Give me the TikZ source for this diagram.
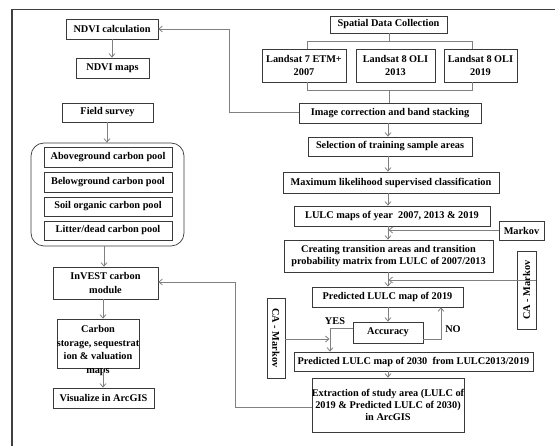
\documentclass[tikz,border=0pt]{standalone}
\usepackage{fontspec}
\setmainfont{Liberation Serif}
\usetikzlibrary{arrows.meta,calc}
\definecolor{boxline}{HTML}{3A3A3A}
\definecolor{conn}{HTML}{808080}
\begin{document}
\begin{tikzpicture}[x=1pt,y=-1pt,
  font=\bfseries\fontsize{10.3}{12.2}\selectfont,
  bx/.style={draw=boxline,line width=0.7pt,inner sep=0pt,align=center},
  cn/.style={draw=conn,line width=0.8pt},
  ar/.style={cn,-{Straight Barb[length=3.5pt,width=6pt]}},
  lbl/.style={inner sep=0pt}]
\useasboundingbox (0,0) rectangle (555,446);
% frame
\draw[line width=1.4pt,color=black!75] (12,446) -- (12,9.5) -- (555,9.5);
% left column
\node[bx,minimum width=92pt,minimum height=20pt] (ndvi) at (112,29) {NDVI calculation};
\node[bx,minimum width=73pt,minimum height=20pt] (ndvimaps) at (112.5,68) {NDVI maps};
\node[bx,minimum width=91pt,minimum height=19pt] (field) at (107.5,112.5) {Field survey};
\node[draw=boxline,line width=0.7pt,rounded corners=13pt,minimum width=153pt,minimum height=103pt,inner sep=0pt] (pool) at (107.5,194.5) {};
\node[bx,minimum width=128pt,minimum height=20pt] (above) at (108,157) {Aboveground carbon pool};
\node[bx,minimum width=128pt,minimum height=20pt] (below) at (108,182) {Belowground carbon pool};
\node[bx,minimum width=128pt,minimum height=19pt] (soil) at (108,206.5) {Soil organic carbon pool};
\node[bx,minimum width=128pt,minimum height=19pt] (litter) at (108,230.5) {Litter/dead carbon pool};
\node[bx,minimum width=105pt,minimum height=32pt] (invest) at (105.5,283) {InVEST carbon\\[1pt]module};
\node[bx,minimum width=82pt,minimum height=49pt] (carbon) at (98,343.5) {};
\node[lbl,align=center,font=\bfseries\fontsize{10.3}{13.7}\selectfont] (carbontxt) at (98,350.5) {Carbon\\storage, sequestrat\\ion \& valuation\\maps};
\node[bx,minimum width=101pt,minimum height=20pt] (vis) at (103.5,398) {Visualize in ArcGIS};
% right column
\node[bx,minimum width=117pt,minimum height=17pt] (sdc) at (388.5,24.5) {Spatial Data Collection};
\node[bx,minimum width=84pt,minimum height=33pt] (l7) at (304,65.5) {Landsat 7 ETM+\\2007};
\node[bx,minimum width=79pt,minimum height=33pt] (l13) at (395.5,65.5) {Landsat 8 OLI\\2013};
\node[bx,minimum width=73pt,minimum height=33pt] (l19) at (480.5,65.5) {Landsat 8 OLI\\2019};
\node[bx,minimum width=182pt,minimum height=20pt] (img) at (390,113) {Image correction and band stacking};
\node[bx,minimum width=164pt,minimum height=19pt] (sel) at (390,146.5) {Selection of training sample areas};
\node[bx,minimum width=216pt,minimum height=21pt] (mlc) at (391,182.5) {Maximum likelihood supervised classification};
\node[bx,minimum width=196pt,minimum height=20pt] (lulc) at (392,216) {LULC maps of year~ 2007, 2013 \& 2019};
\node[bx,minimum width=45pt,minimum height=19pt] (markov) at (521.5,230.5) {Markov};
\node[bx,minimum width=209pt,minimum height=32pt] (creat) at (388.5,256) {Creating transition areas and transition\\probability matrix from LULC of 2007/2013};
\node[bx,rotate=90,minimum width=78pt,minimum height=19pt] (camr) at (526.5,290) {CA - Markov};
\node[bx,minimum width=151pt,minimum height=20pt] (p19) at (387.5,297) {Predicted LULC map of 2019};
\node[bx,minimum width=70pt,minimum height=21pt] (acc) at (388,332.5) {Accuracy};
\node[bx,rotate=-90,minimum width=80pt,minimum height=18pt] (caml) at (276,338) {CA - Markov};
\node[bx,minimum width=239pt,minimum height=19pt] (p30) at (413.5,361.5) {Predicted LULC map of 2030~ from LULC2013/2019};
\node[bx,minimum width=150pt,minimum height=54pt] (extr) at (388,405) {Extraction of study area (LULC of\\2019 \& Predicted LULC of 2030)\\in ArcGIS};
\node[lbl] (yes) at (335,321) {YES};
\node[lbl] (no) at (453,329) {NO};
% helper coordinates
\coordinate (bt1) at (389,41);
\coordinate (bt2) at (389,90);
% connectors
\draw[ar] (img.west |- 0,112) -- (229,112) -- (229,29) -- (ndvi.east);
\draw[ar] (ndvi.south) -- (ndvimaps.north -| ndvi.south);
\draw[ar] (field.south -| 107,0) -- (pool.north -| 107,0);
\draw[ar] (pool.south -| 104,0) -- (invest.north -| 104,0);
\draw[ar] (extr.west |- 0,407) -- (235,407) -- (235,282) -- (invest.east |- 0,282);
\draw[ar] (invest.south -| 103,0) -- (carbon.north -| 103,0);
\draw[ar] (carbon.south -| 103,0) -- (vis.north -| 103,0);
\draw[cn] (sdc.south -| bt1) -- (bt1);
\draw[cn] (l7.north -| 307,0) -- (307,41) -- (472,41) -- (l19.north -| 472,0);
\draw[cn] (l7.south -| 307,0) -- (307,90) -- (472,90) -- (l19.south -| 472,0);
\draw[cn] (bt2) -- (img.north -| bt2);
\draw[ar] (img.south -| 388,0) -- (sel.north -| 388,0);
\draw[ar] (sel.south -| 388,0) -- (mlc.north -| 388,0);
\draw[ar] (mlc.south -| 388,0) -- (lulc.north -| 388,0);
\draw[ar] (lulc.south -| 388,0) -- (creat.north -| 388,0);
\draw[ar] (markov.west |- 0,230) -- (388.5,230);
\draw[ar] (creat.south -| 388,0) -- (p19.north -| 388,0);
\draw[ar] (camr.south |- 0,280) -- (388.5,280);
\draw[ar] (p19.south -| 388,0) -- (acc.north -| 388,0);
\draw[ar] (acc.east |- 0,339) -- (441,339) -- (p19.south -| 441,0);
\draw[ar] (acc.west |- 0,328) -- (330,328) -- (p30.north -| 330,0);
\draw[ar] (caml.north |- 0,339) -- (329.5,339);
\draw[ar] (p30.south -| 388,0) -- (extr.north -| 388,0);
\end{tikzpicture}
\end{document}
